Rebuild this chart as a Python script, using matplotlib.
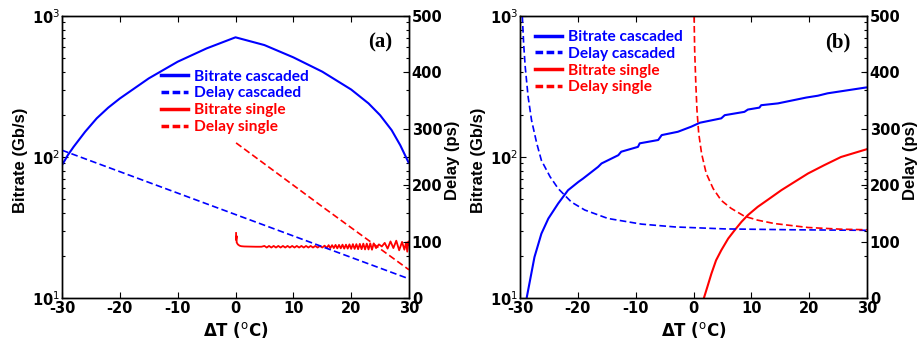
import matplotlib
matplotlib.use("Agg")
import matplotlib.pyplot as plt
from matplotlib.lines import Line2D
from matplotlib.ticker import FixedLocator, FixedFormatter, LogLocator, NullFormatter

# ---------------- data: panel (a) ----------------
a_bc_T = [-30, -29, -28, -26, -24, -22, -20, -15, -10, -5, 0, 5, 10, 15, 20, 23, 25, 27, 28.5, 30]
a_bc_B = [87.5, 103, 118, 151, 188, 224, 260, 361, 474, 589, 706, 622, 509, 403, 301, 240, 198, 155, 121, 90]

a_dc_T = [-30, -15, 0, 15, 30]
a_dc_D = [262, 205, 148, 91, 34]

a_ds_T = [0.1, 15, 30]
a_ds_D = [275, 162, 50]

a_bs_T = [0.1, 0.1, 0.2, 0.2, 0.4, 0.7, 1.0, 1.5, 2.5, 3.5, 4.5,
          5.0, 5.4, 5.8, 6.2, 6.6, 7.0, 7.4, 7.8, 8.2, 8.6, 9.0, 9.4, 9.8, 10.2,
          10.6, 11.0, 11.4, 11.8, 12.2, 12.6, 13.0, 13.4, 13.8, 14.2, 14.6, 15.0, 15.4, 15.8,
          16.1, 16.4, 16.7, 17.0, 17.3, 17.6, 17.9, 18.2, 18.5, 18.8, 19.1, 19.4, 19.7, 20.0,
          20.3, 20.6, 20.9, 21.2, 21.5, 21.8, 22.1, 22.4, 22.7, 23.0, 23.3, 23.6, 23.9,
          24.3, 24.8, 25.3, 25.8, 26.3, 26.8, 27.3, 27.8, 28.3, 28.8, 29.2, 29.5, 29.7, 29.9, 30.0]
a_bs_B = [28.9, 25.8, 27.5, 24.8, 24.0, 23.5, 23.3, 23.2, 23.15, 23.1, 23.1,
          23.4, 22.8, 23.4, 22.8, 23.4, 22.8, 23.4, 22.8, 23.4, 22.8, 23.4, 22.8, 23.4, 22.8,
          23.4, 22.8, 23.4, 22.8, 23.4, 22.8, 23.4, 22.8, 23.4, 22.8, 23.4, 22.8, 23.5, 22.7,
          23.7, 22.6, 23.7, 22.6, 23.8, 22.5, 23.8, 22.5, 23.9, 22.4, 23.9, 22.4, 24.0, 22.3,
          24.1, 22.3, 24.1, 22.2, 24.2, 22.2, 24.3, 22.1, 24.3, 22.1, 24.4, 22.0, 24.4,
          22.6, 24.0, 23.2, 24.6, 22.4, 25.2, 22.6, 25.5, 21.8, 25.0, 22.0, 24.8, 21.3, 25.2, 24.0]

# ---------------- data: panel (b) ----------------
b_bc_T = [-28.85, -27.5, -26.3, -25.1, -23.4, -21.7, -19.9, -19.1, -16.5, -15.9, -13.0, -12.5,
          -9.6, -9.3, -6.1, -5.5, -2.7, -0.4, 1.1, 4.8, 5.4, 8.8, 9.4, 11.4, 11.7, 14.6,
          16.9, 19.5, 21.5, 23.2, 26.1, 30.0]
b_bc_B = [10, 19.5, 28.6, 36.6, 46.8, 58.1, 66.6, 70.3, 85.1, 90, 103, 109,
          118, 125, 132, 143, 151, 164, 175, 188, 198, 209, 217, 224, 233, 240,
          251, 264, 272, 283, 295, 312]

b_dc_T = [-29.6, -29.37, -29.1, -28.6, -28.0, -27.1, -26.3, -24.8, -23.4, -21.1, -18.8,
          -14.8, -9.0, -3.2, 5.4, 16.9, 30.0]
b_dc_D = [500, 451, 410, 357, 315, 274, 244, 215, 194, 170, 156,
          141, 131, 126, 122.5, 121, 120]

b_ds_T = [0.1, 0.2, 0.4, 0.6, 0.9, 1.4, 2.2, 3.4, 4.8, 6.5, 8.8, 11.1, 14.0, 19.8, 25.5, 30.0]
b_ds_D = [500, 440, 380, 333, 292, 256, 221, 194, 173, 159, 145, 138, 132, 125, 122, 121]

b_bs_T = [1.8, 2.4, 3.1, 3.9, 4.8, 6.0, 7.1, 8.3, 9.4, 11.1, 12.9, 15.2, 17.5, 19.8, 22.6, 25.5, 30.0]
b_bs_B = [10, 12.0, 14.9, 18.5, 21.8, 26.4, 30.2, 34.7, 38.7, 44.3, 49.9, 58.2, 66.7, 76.4, 87.5, 100, 113.7]

x_ticks = [-30, -20, -10, 0, 10, 20, 30]
left_ticks = [10, 100, 1000]
left_labels = [r'$\mathbf{10}^{1}$', r'$\mathbf{10}^{2}$', r'$\mathbf{10}^{3}$']
right_ticks = [0, 100, 200, 300, 400, 500]
legend_labels = ['Bitrate cascaded', 'Delay cascaded', 'Bitrate single', 'Delay single']
panel_tags = ['(a)', '(b)']

BLUE = '#0000FF'
RED = '#FF0000'
TICKFONT = 'DejaVu Sans'
LABELFONT = 'Liberation Sans'

plt.rcParams['mathtext.fontset'] = 'custom'
plt.rcParams['mathtext.rm'] = 'DejaVu Sans'
plt.rcParams['mathtext.bf'] = 'DejaVu Sans:bold'

fig = plt.figure(figsize=(9.18, 3.45), dpi=100)

DASH = (0, (4, 2))


def panel(left_px, data, tag, leg_anchor):
    ax = fig.add_axes([left_px / 918, 47 / 345, 347 / 918, 282 / 345])
    ax2 = ax.twinx()
    (bcT, bcB, dcT, dcD, bsT, bsB, dsT, dsD, lw_bs) = data
    ax.plot(bcT, bcB, color=BLUE, lw=1.5, solid_capstyle='butt')
    ax.plot(bsT, bsB, color=RED, lw=lw_bs)
    ax2.plot(dcT, dcD, color=BLUE, lw=1.2, linestyle=DASH)
    ax2.plot(dsT, dsD, color=RED, lw=1.2, linestyle=DASH)

    ax.set_yscale('log')
    ax.set_xlim(-30, 30)
    ax.set_ylim(10, 1000)
    ax2.set_ylim(0, 500)

    ax.xaxis.set_major_locator(FixedLocator(x_ticks))
    ax.set_xticklabels([str(t) for t in x_ticks], fontfamily=TICKFONT, fontweight='bold', fontsize=10.5)
    ax.yaxis.set_major_locator(FixedLocator(left_ticks))
    ax.yaxis.set_major_formatter(FixedFormatter(left_labels))
    ax.yaxis.set_minor_locator(LogLocator(base=10, subs=range(2, 10)))
    ax.yaxis.set_minor_formatter(NullFormatter())
    for lab in ax.get_yticklabels():
        lab.set_fontsize(10.5)
    ax.tick_params(axis='both', which='both', direction='in', top=True, right=True,
                   width=0.8, color='black')
    ax.tick_params(axis='both', which='major', length=4)
    ax.tick_params(axis='y', which='minor', length=2.5)
    ax.tick_params(axis='x', pad=2)
    ax.tick_params(axis='y', pad=1.5)

    ax2.yaxis.set_major_locator(FixedLocator(right_ticks))
    ax2.set_yticklabels([str(t) for t in right_ticks], fontfamily=TICKFONT, fontweight='bold', fontsize=10.5)
    ax2.tick_params(axis='y', direction='in', length=4, width=0.8, pad=2)

    for a in (ax, ax2):
        for s in a.spines.values():
            s.set_linewidth(1.0)

    ax.set_ylabel('Bitrate (Gb/s)', fontfamily=LABELFONT, fontweight='bold', fontsize=12,
                  va='center')
    ax.yaxis.set_label_coords(-0.121, 0.49)
    ax2.set_ylabel('Delay (ps)', fontfamily=LABELFONT, fontweight='bold', fontsize=12,
                   rotation=90, va='center')
    ax2.yaxis.set_label_coords(1.124, 0.49)
    ax.set_xlabel(r'$\mathbf{\Delta T}$ ($^{\mathrm{o}}$C)', fontfamily=TICKFONT, fontweight='bold',
                  fontsize=12, va='center')
    ax.xaxis.set_label_coords(0.5, -0.112)

    ax.text(0.916, 0.905, tag, transform=ax.transAxes, ha='center', va='center',
            fontfamily='Liberation Serif', fontweight='bold', fontsize=15)

    handles = [Line2D([], [], color=BLUE, lw=2.5),
               Line2D([], [], color=BLUE, lw=2.5, dashes=(2.2, 1.0)),
               Line2D([], [], color=RED, lw=2.5),
               Line2D([], [], color=RED, lw=2.5, dashes=(2.2, 1.0))]
    leg = ax2.legend(handles, legend_labels, loc='upper left', bbox_to_anchor=leg_anchor,
                     frameon=False, borderpad=0, borderaxespad=0, handlelength=1.75,
                     handletextpad=0.4, labelspacing=0.18,
                     prop={'family': 'Lato', 'weight': 'bold', 'size': 11.2})
    for txt, col in zip(leg.get_texts(), [BLUE, BLUE, RED, RED]):
        txt.set_color(col)
    return ax, ax2


panel(62, (a_bc_T, a_bc_B, a_dc_T, a_dc_D, a_bs_T, a_bs_B, a_ds_T, a_ds_D, 1.3), panel_tags[0], (0.285, 0.81))
panel(520, (b_bc_T, b_bc_B, b_dc_T, b_dc_D, b_bs_T, b_bs_B, b_ds_T, b_ds_D, 1.5), panel_tags[1], (0.043, 0.95))

fig.savefig('out.png', dpi=100)
